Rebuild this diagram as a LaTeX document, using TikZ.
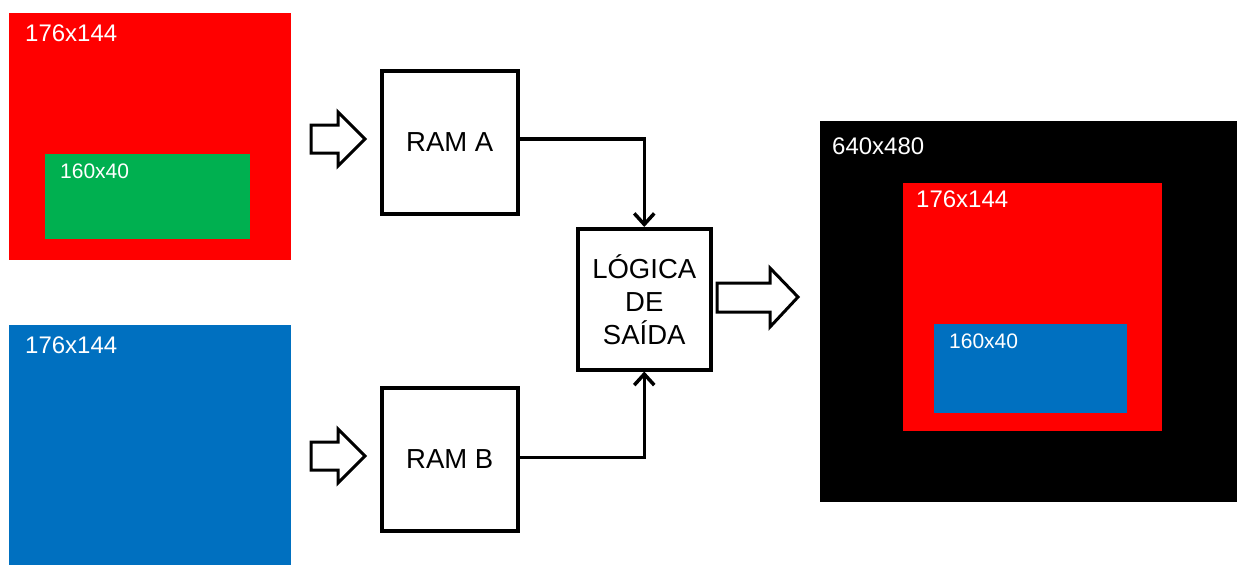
\documentclass[tikz,border=0pt]{standalone}
\usepackage{fontspec}
\setmainfont{Liberation Sans}
\usetikzlibrary{arrows.meta}
\definecolor{pred}{HTML}{FF0000}
\definecolor{pgreen}{HTML}{00B050}
\definecolor{pblue}{HTML}{0070C0}
\begin{document}
\begin{tikzpicture}[x=1pt,y=-1pt,
  frame/.style={anchor=north west, inner sep=0, outer sep=0, draw=none},
  lbl/.style={anchor=north west, inner sep=0, text=white, font=\fontsize{24}{28}\selectfont},
  slbl/.style={anchor=north west, inner sep=0, text=white, font=\fontsize{21}{24}\selectfont},
  blk/.style={draw=black, line width=3.5pt, fill=white, inner sep=0, anchor=north west, align=center,
     font=\fontsize{27.5}{33}\selectfont},
  conn/.style={line width=3.5pt, -{Straight Barb[length=11pt,width=20pt,line width=3.5pt]}},
  barrow/.style={draw=black, line width=3pt, fill=white, line join=miter}
]
\useasboundingbox (0,0) rectangle (1237,565);
% left top frame
\node[frame, fill=pred, minimum width=282pt, minimum height=247pt] (fa) at (9,13) {};
\node[frame, fill=pgreen, minimum width=205pt, minimum height=85pt] (ga) at (45,154) {};
\node[lbl] (ta) at (25,25) {176x144};
\node[slbl] (tga) at (60,164) {160x40};
% left bottom frame
\node[frame, fill=pblue, minimum width=282pt, minimum height=240pt] (fb) at (9,325) {};
\node[lbl] (tb) at (25,337) {176x144};
% output
\node[frame, fill=black, minimum width=417pt, minimum height=381pt] (fo) at (820,121) {};
\node[lbl] (to) at (832,138) {640x480};
\node[frame, fill=pred, minimum width=259pt, minimum height=248pt] (fr) at (903,183) {};
\node[lbl] (tr) at (916,191) {176x144};
\node[frame, fill=pblue, minimum width=193pt, minimum height=89pt] (fbl) at (934,324) {};
\node[slbl] (tbl) at (949,334) {160x40};
% blocks
\node[blk, minimum width=136pt, minimum height=143pt] (ramA) at (380,69) {RAM A};
\node[blk, minimum width=136pt, minimum height=143pt] (ramB) at (380,386) {RAM B};
\node[blk, minimum width=133pt, minimum height=141pt] (logic) at (576,227) {LÓGICA\\DE\\SAÍDA};
% connectors
\draw[conn] ([yshift=3.5pt]ramA.east) -| (logic.north);
\draw[conn] ([yshift=2pt]ramB.east) -| (logic.south);
% block arrows
\draw[barrow] (311,125) -- (338,125) -- (338,112) -- (365,139) -- (338,166) -- (338,153) -- (311,153) -- cycle;
\draw[barrow] (311,442) -- (338,442) -- (338,429) -- (365,456) -- (338,483) -- (338,470) -- (311,470) -- cycle;
\draw[barrow] (717,283) -- (770,283) -- (770,268) -- (798,297) -- (770,327) -- (770,312) -- (717,312) -- cycle;
\end{tikzpicture}
\end{document}
